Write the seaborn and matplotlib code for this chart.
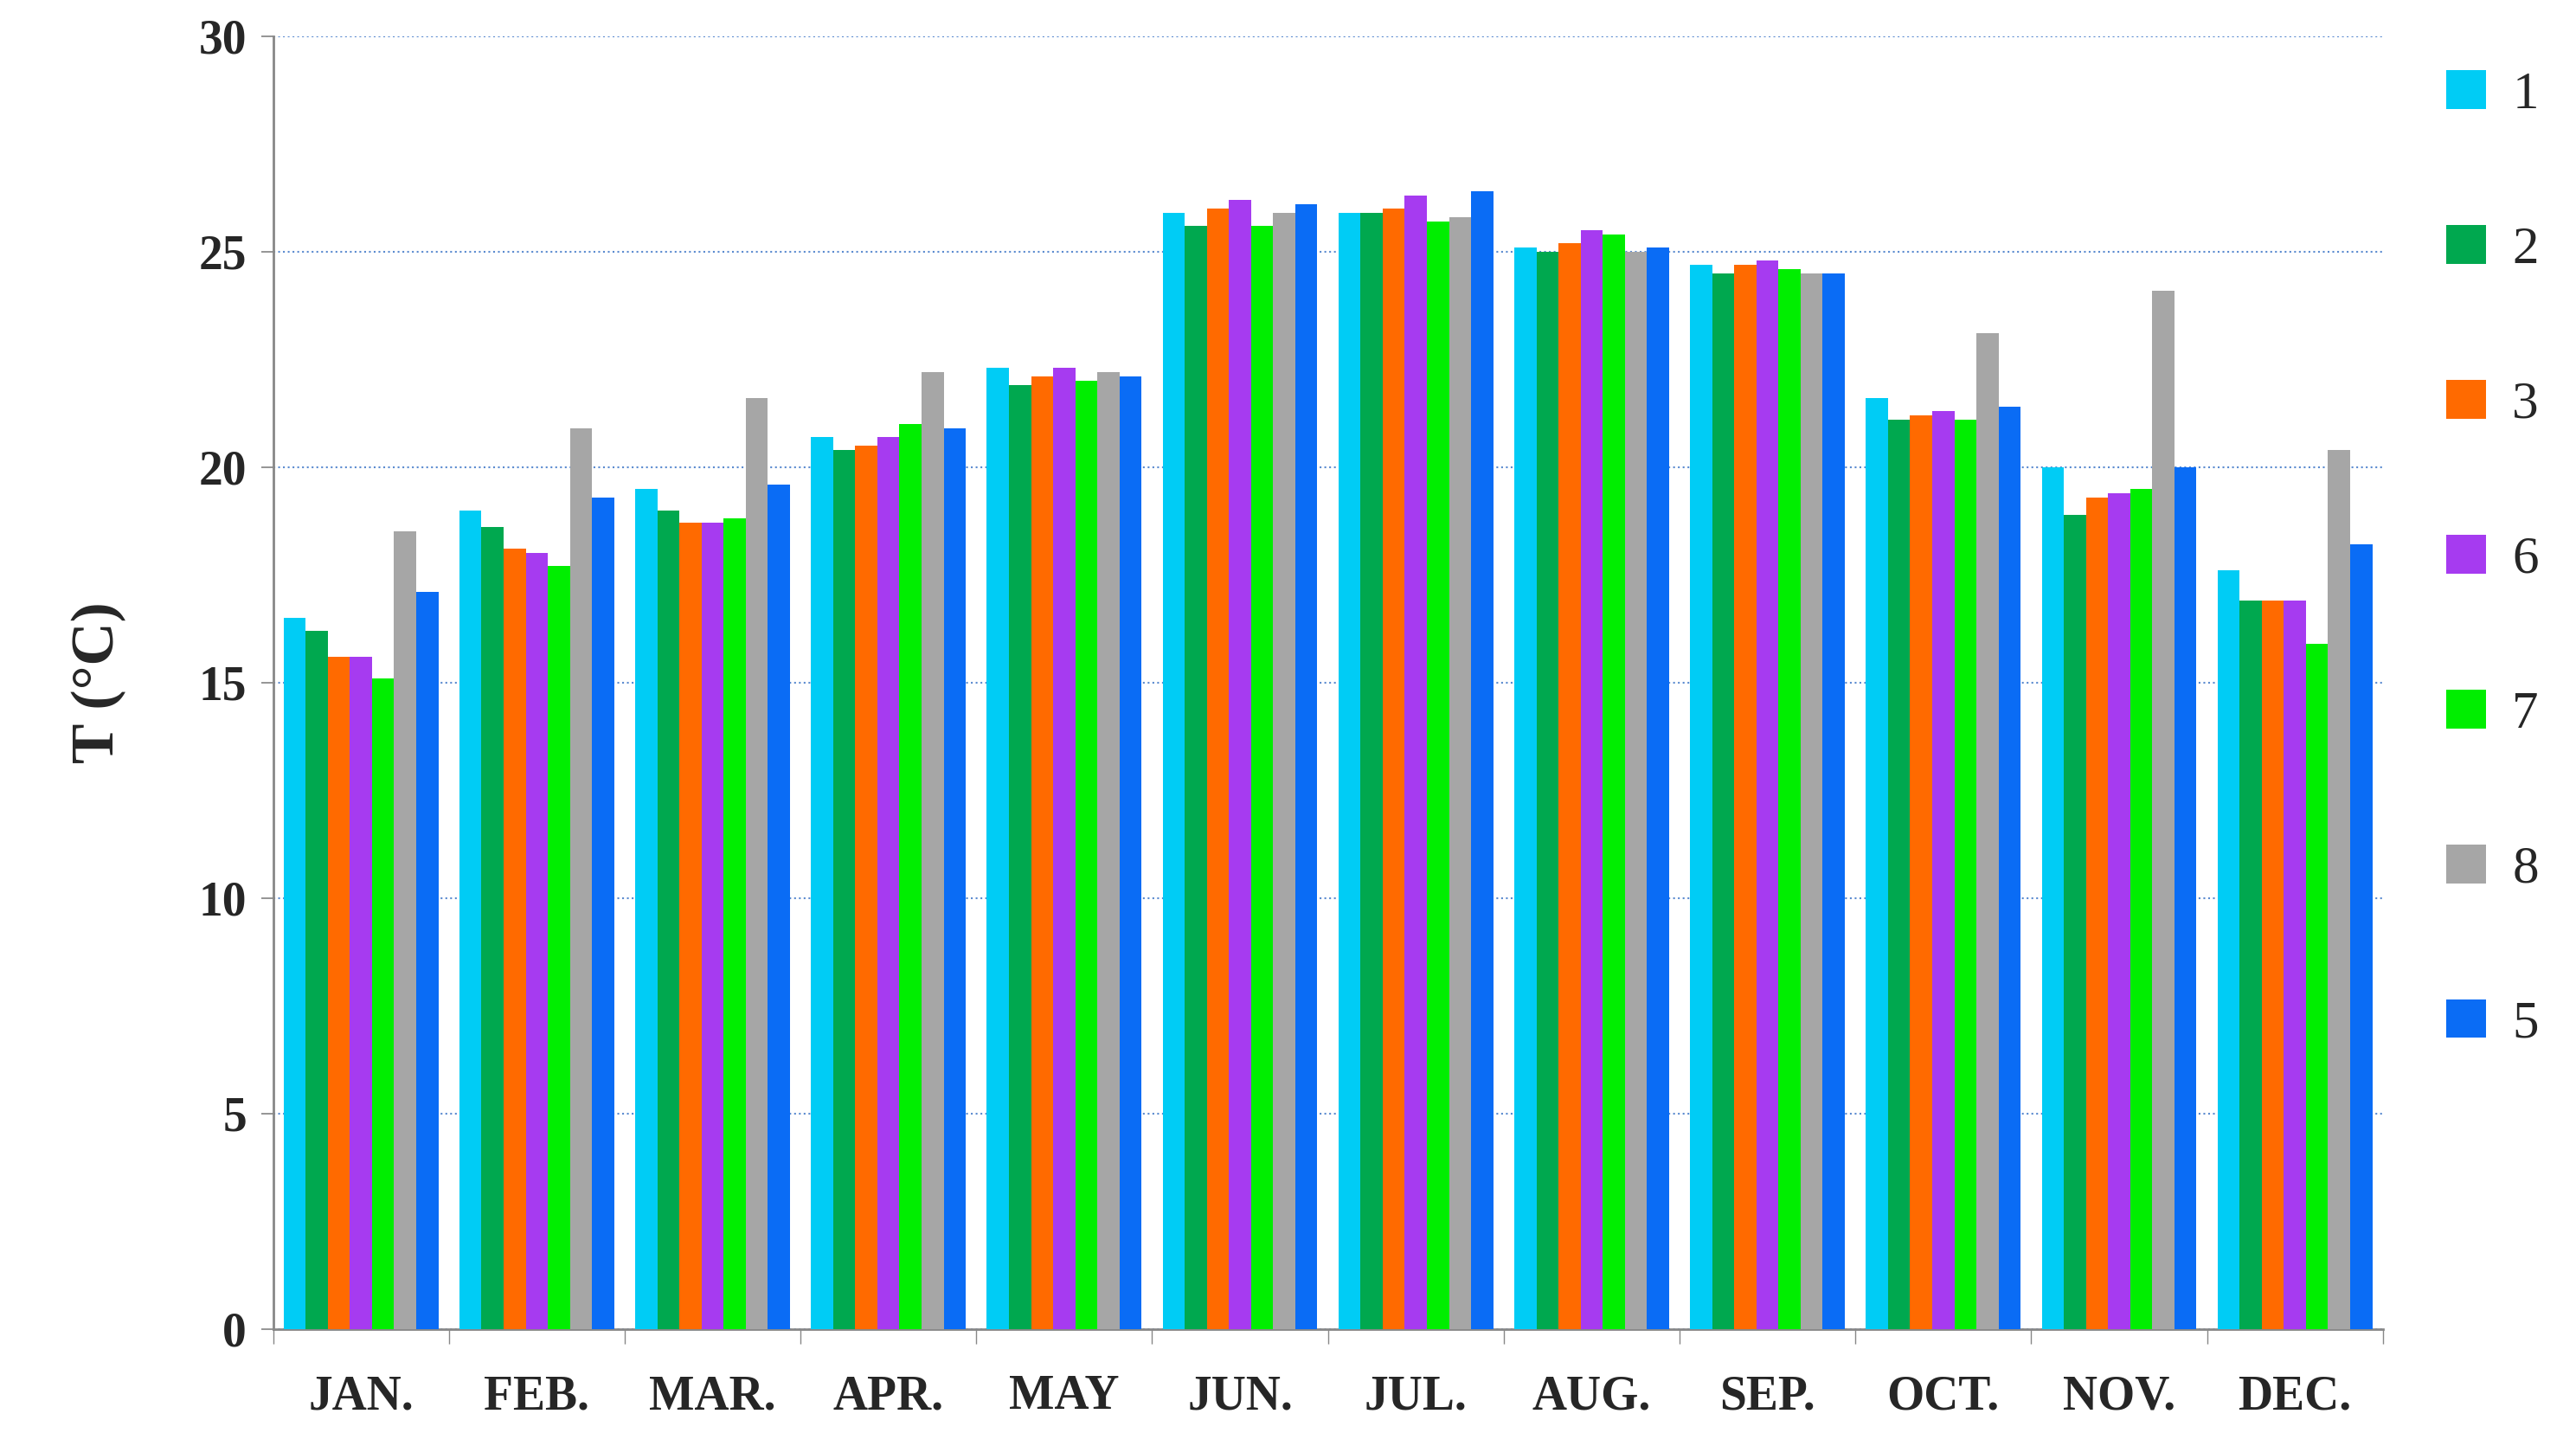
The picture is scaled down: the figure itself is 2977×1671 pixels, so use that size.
import matplotlib
matplotlib.use("Agg")
import matplotlib.pyplot as plt
import seaborn as sns
import pandas as pd
import numpy as np

months = ["JAN.", "FEB.", "MAR.", "APR.", "MAY", "JUN.", "JUL.", "AUG.", "SEP.", "OCT.", "NOV.", "DEC."]
series = ["1", "2", "3", "6", "7", "8", "5"]
s1 = [16.5, 19.0, 19.5, 20.7, 22.3, 25.9, 25.9, 25.1, 24.7, 21.6, 20.0, 17.6]
s2 = [16.2, 18.6, 19.0, 20.4, 21.9, 25.6, 25.9, 25.0, 24.5, 21.1, 18.9, 16.9]
s3 = [15.6, 18.1, 18.7, 20.5, 22.1, 26.0, 26.0, 25.2, 24.7, 21.2, 19.3, 16.9]
s6 = [15.6, 18.0, 18.7, 20.7, 22.3, 26.2, 26.3, 25.5, 24.8, 21.3, 19.4, 16.9]
s7 = [15.1, 17.7, 18.8, 21.0, 22.0, 25.6, 25.7, 25.4, 24.6, 21.1, 19.5, 15.9]
s8 = [18.5, 20.9, 21.6, 22.2, 22.2, 25.9, 25.8, 25.0, 24.5, 23.1, 24.1, 20.4]
s5 = [17.1, 19.3, 19.6, 20.9, 22.1, 26.1, 26.4, 25.1, 24.5, 21.4, 20.0, 18.2]
colors = ["#00CCF5", "#00A84F", "#FF6A00", "#A63BF0", "#00EE00", "#A6A6A6", "#0A6CF5"]

rows = []
for name, vals in zip(series, [s1, s2, s3, s6, s7, s8, s5]):
    for m, v in zip(months, vals):
        rows.append({"month": m, "series": name, "T": v})
df = pd.DataFrame(rows)

sns.set_theme(style="white")
plt.rcParams["font.family"] = ["Liberation Serif", "DejaVu Serif"]

fig = plt.figure(figsize=(29.77, 16.71), dpi=100)
ax = fig.add_axes([0.106, 0.081, 0.819, 0.894])
sns.barplot(data=df, x="month", y="T", hue="series", order=months, hue_order=series,
            palette=colors, width=0.88, saturation=1, linewidth=0, ax=ax, zorder=3)
ax.set_ylim(0, 30)
ax.set_xlim(-0.5, 11.5)
ax.set_yticks(range(0, 31, 5))
ax.yaxis.grid(True, color="#5B8BD0", linestyle=":", linewidth=1.5, zorder=0)
ax.xaxis.grid(False)
ax.set_xlabel("")
ax.set_ylabel("T (°C)", fontsize=50, fontweight="bold", labelpad=60)
ax.tick_params(axis="y", labelsize=40, length=10, left=True, color="#888888", pad=12)
ax.tick_params(axis="x", labelsize=40, length=0, pad=38)
for t in ax.get_yticklabels() + ax.get_xticklabels():
    t.set_fontweight("bold")
ax.set_xticks(np.arange(-0.5, 12, 1), minor=True)
ax.tick_params(axis="x", which="minor", length=12, bottom=True, color="#888888")
for s in ["top", "right"]:
    ax.spines[s].set_visible(False)
for s in ["left", "bottom"]:
    ax.spines[s].set_color("#888888")
    ax.spines[s].set_linewidth(2)
leg = ax.legend(loc="upper left", bbox_to_anchor=(1.02, 0.99), frameon=False,
                fontsize=44, handlelength=0.75, handleheight=0.75, labelspacing=2.0,
                handletextpad=0.5, borderaxespad=0)
fig.savefig("out.png", dpi=100)
